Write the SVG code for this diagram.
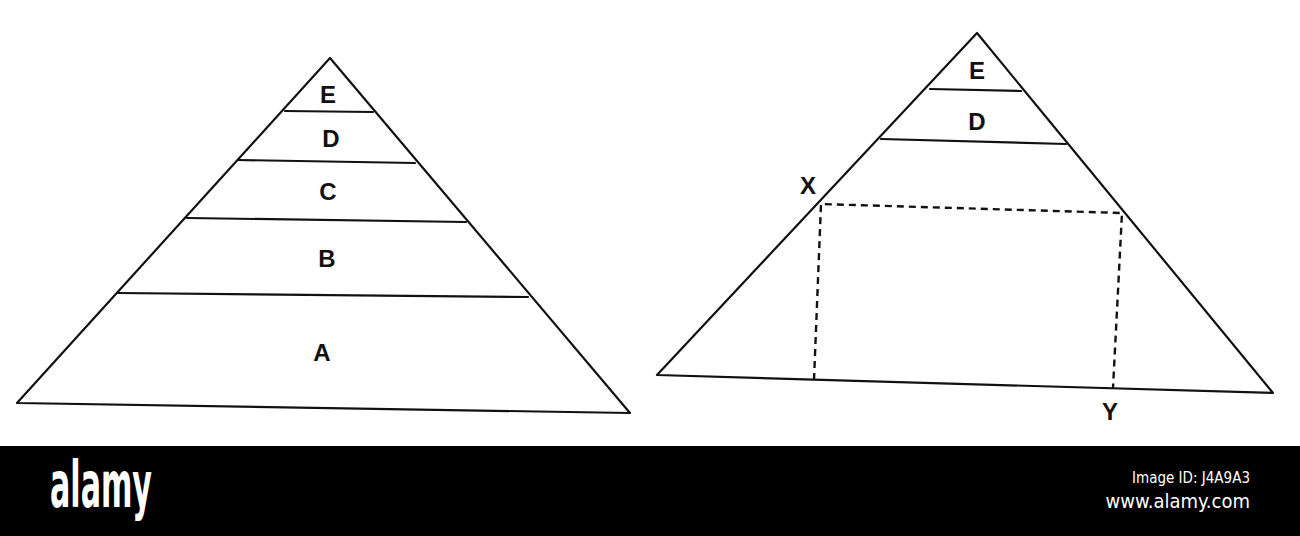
<svg xmlns="http://www.w3.org/2000/svg" width="1300" height="536" viewBox="0 0 1300 536">
<style>
.ln{fill:none;stroke:#111;stroke-width:2.2;stroke-linecap:round;stroke-linejoin:round}
.dash{fill:none;stroke:#111;stroke-width:2.4;stroke-dasharray:7 5}
.lbl{font-family:"Liberation Sans","DejaVu Sans",sans-serif;font-size:24px;font-weight:bold;fill:#111;text-anchor:middle}
.wm{font-family:"Liberation Sans Narrow","DejaVu Sans Condensed","Liberation Sans",sans-serif;fill:#fff}
</style>
<rect width="1300" height="536" fill="#fff"/>
<g id="left-pyramid">
<polygon class="ln" points="330,58 17,403 630,413"/>
<line class="ln" x1="285" y1="111" x2="373" y2="112"/>
<line class="ln" x1="238" y1="160" x2="415" y2="163"/>
<line class="ln" x1="187" y1="218" x2="466" y2="222"/>
<line class="ln" x1="118" y1="293" x2="528" y2="297"/>
<text class="lbl" x="328" y="103">E</text>
<text class="lbl" x="331" y="147">D</text>
<text class="lbl" x="328" y="200">C</text>
<text class="lbl" x="327" y="267">B</text>
<text class="lbl" x="322" y="361">A</text>
</g>
<g id="right-pyramid">
<polygon class="ln" points="977,33 657,375 1273,393"/>
<line class="ln" x1="930" y1="89" x2="1021" y2="91"/>
<line class="ln" x1="881" y1="139" x2="1066" y2="144"/>
<text class="lbl" x="977" y="79">E</text>
<text class="lbl" x="977" y="130">D</text>
</g>
<g id="connectors">
<polyline class="dash" points="814,380 821,204 1122,213 1113,388"/>
</g>
<g id="labels-xy">
<text class="lbl" x="808" y="194">X</text>
<text class="lbl" x="1110" y="420">Y</text>
</g>
<g id="watermark">
<rect x="0" y="446" width="1300" height="90" fill="#000"/>
<text class="wm" x="50" y="507" font-size="64" font-weight="bold" textLength="102" lengthAdjust="spacingAndGlyphs">alamy</text>
<text class="wm" x="1250" y="483" font-size="15" text-anchor="end">Image ID: J4A9A3</text>
<text class="wm" x="1250" y="508" font-size="20" text-anchor="end">www.alamy.com</text>
</g>
</svg>
